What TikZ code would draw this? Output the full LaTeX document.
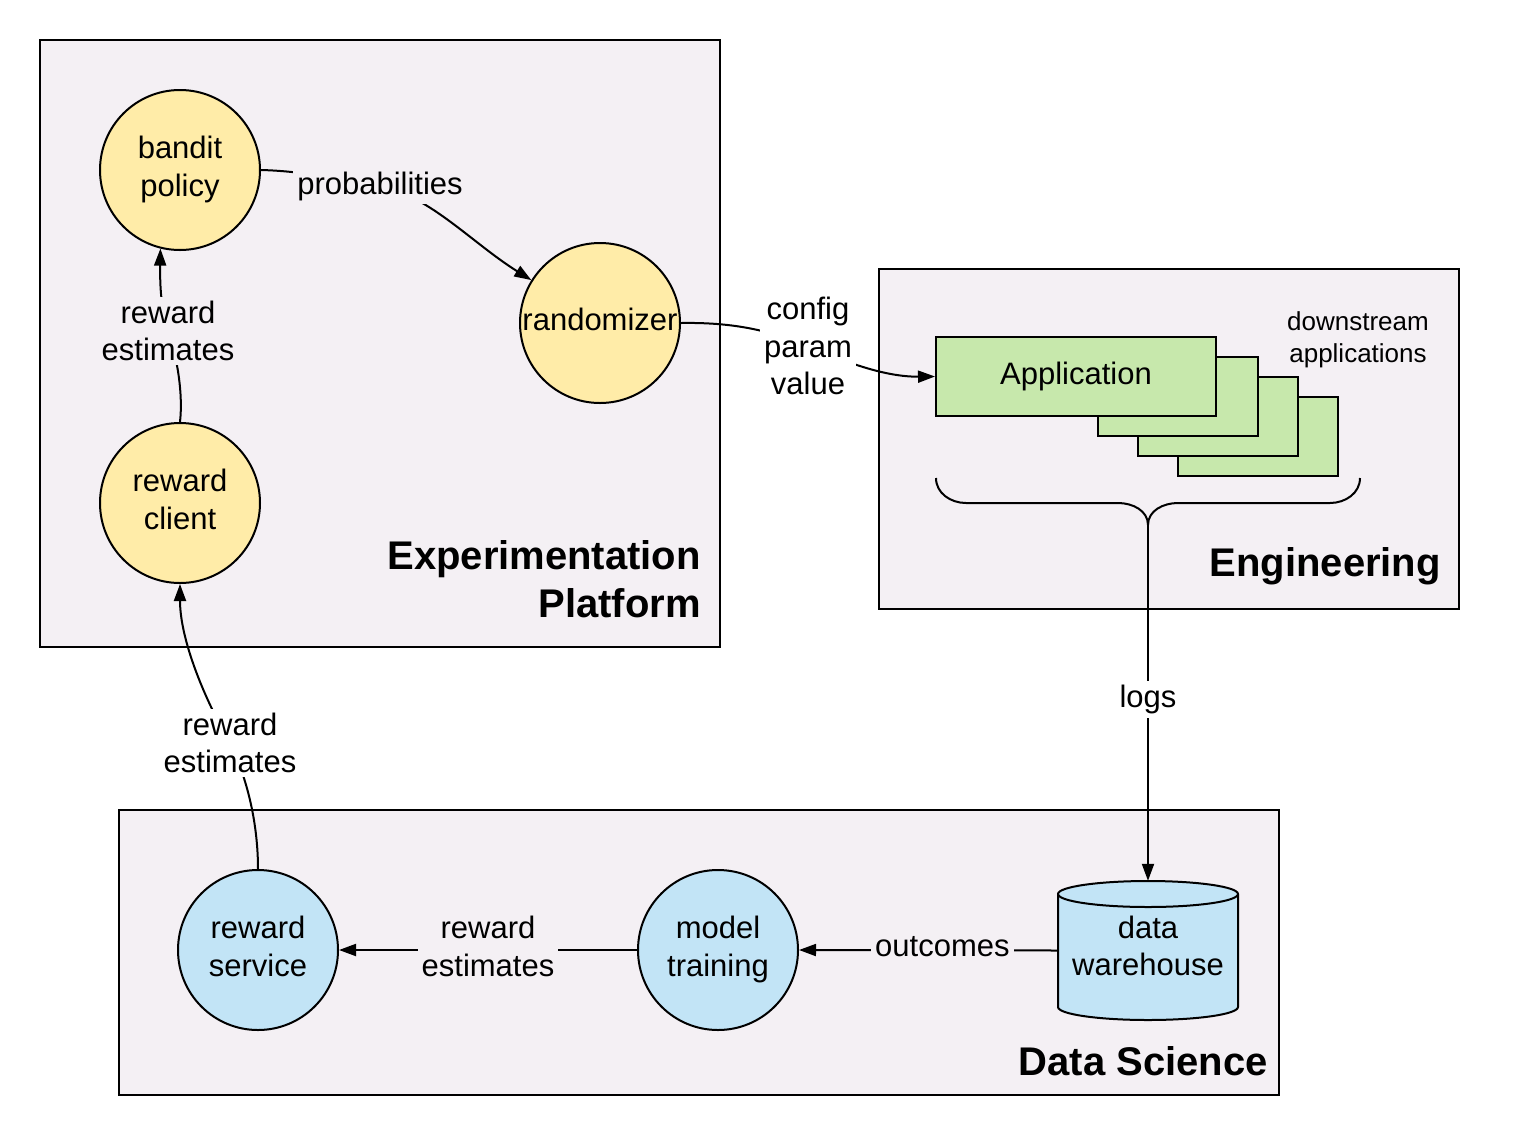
\documentclass[tikz,border=0pt]{standalone}
\usepackage{fontspec}
\setmainfont{Liberation Sans}
\usetikzlibrary{arrows.meta}
\pgfdeclarelayer{bg}
\pgfdeclarelayer{fg}
\pgfsetlayers{bg,main,fg}
\definecolor{panel}{HTML}{F4F0F4}
\definecolor{yelfill}{HTML}{FFECA8}
\definecolor{bluefill}{HTML}{C2E4F6}
\definecolor{greenfill}{HTML}{C7E8AC}
\newcommand{\normtxt}{\fontsize{31}{37.5}\selectfont}
\newcommand{\smalltxt}{\fontsize{26}{32}\selectfont}
\newcommand{\titletxt}{\bfseries\fontsize{40}{48}\selectfont}
\begin{document}
\begin{tikzpicture}[x=1pt,y=-1pt,
  panelbox/.style={draw, line width=2pt, fill=panel},
  yelnode/.style={circle, draw, line width=2pt, fill=yelfill, minimum size=160pt, inner sep=0pt, font=\normtxt, align=center, text depth=7pt},
  bluenode/.style={circle, draw, line width=2pt, fill=bluefill, minimum size=160pt, inner sep=0pt, font=\normtxt, align=center, text depth=7pt},
  appbox/.style={rectangle, draw, line width=2pt, fill=greenfill, minimum height=79pt, inner sep=0pt, font=\normtxt},
  lab/.style={font=\normtxt, align=center, inner sep=4pt},
  title/.style={font=\titletxt, align=right, anchor=east, inner sep=0pt},
  con/.style={line width=2pt},
  arr/.style={line width=2pt, -{Triangle[length=17pt,width=12pt]}}
]
\useasboundingbox (0,0) rectangle (1519,1136);

% background and panels
\begin{pgfonlayer}{bg}
\fill[white] (0,0) rectangle (1519,1136);
\draw[panelbox] (40,40) rectangle (720,647);
\draw[panelbox] (879,269) rectangle (1459,609);
\draw[panelbox] (119,810) rectangle (1279,1095);
\end{pgfonlayer}

% titles
\node[title] (exptitle) at (701,579) {Experimentation\\Platform};
\node[title] (engtitle) at (1441,566) {Engineering};
\node[title] (dstitle) at (1268,1061) {Data Science};

% circles
\node[yelnode] (bp) at (180,170) {bandit\\policy};
\node[yelnode] (rnd) at (600,323) {randomizer};
\node[yelnode] (rc) at (180,503) {reward\\client};
\node[bluenode] (rs) at (258,950) {reward\\service};
\node[bluenode] (mt) at (718,950) {model\\training};

% application stack
\node[appbox, minimum width=160pt] (app4) at (1258,436.5) {};
\node[appbox, minimum width=160pt] (app3) at (1218,416.5) {};
\node[appbox, minimum width=160pt] (app2) at (1178,396.5) {};
\node[appbox, minimum width=280pt] (app) at (1076,376.5) {Application};
\node[font=\smalltxt, align=center, inner sep=0pt] (down) at (1358,340) {downstream\\applications};

% brace
\coordinate (cusp) at (1148,525);
\draw[con] (936,478) to[out=-90,in=180] (966,503) -- (1118,503) to[out=0,in=90] (cusp)
           to[out=90,in=180] (1178,503) -- (1330,503) to[out=0,in=-90] (1360,478);

% data warehouse cylinder
\node[rectangle, minimum width=180pt, minimum height=139pt, inner sep=0pt] (dw) at (1148,950.5) {};
\filldraw[fill=bluefill, line width=2pt] (1058,894) -- (1058,1007) arc[start angle=180, end angle=360, x radius=90pt, y radius=13pt]
   -- (1238,894) arc[start angle=0, end angle=180, x radius=90pt, y radius=13pt] -- cycle;
\draw[line width=2pt] (1058,894) arc[start angle=180, end angle=360, x radius=90pt, y radius=13pt];
\node[font=\normtxt, align=center, inner sep=0pt] (dwtext) at (1148,946) {data\\warehouse};

% labels (on top)
\begin{pgfonlayer}{fg}
\node[lab, fill=panel] (plab) at (380,186) {probabilities};
\node[lab, fill=white] (clab) at (808,346) {config\\param\\value};
\node[lab, fill=panel] (rlab1) at (168,331) {reward\\estimates};
\node[lab, fill=white] (rlab2) at (230,743) {reward\\estimates};
\end{pgfonlayer}

% connectors
\draw[arr] (bp.east) .. controls (300,171) and (335,178) .. (plab.center)
           .. controls (430,196) and (472,243) .. (rnd.148);
\draw[arr] (rnd.east) .. controls (740,322) and (775,333) .. (clab.center)
           .. controls (845,362) and (885,377) .. (app.west);
\draw[arr] (rc.north) .. controls (183,395) and (178,360) .. (rlab1.center)
           .. controls (160,305) and (160,280) .. (bp.256);
\draw[arr] (rs.north) .. controls (258,825) and (248,780) .. (rlab2.center)
           .. controls (205,700) and (180,640) .. (rc.south);
\draw[arr] (mt.west) -- node[lab, fill=panel, text depth=7pt] (elab) {reward\\estimates} (rs.east);
\draw[arr] (dw.west) -- node[lab, fill=panel, pos=0.446, text depth=7pt] (olab) {outcomes} (mt.east);
\draw[arr] (cusp) -- node[lab, fill=white, pos=0.49] (llab) {logs} (dw.north);
\end{tikzpicture}
\end{document}
